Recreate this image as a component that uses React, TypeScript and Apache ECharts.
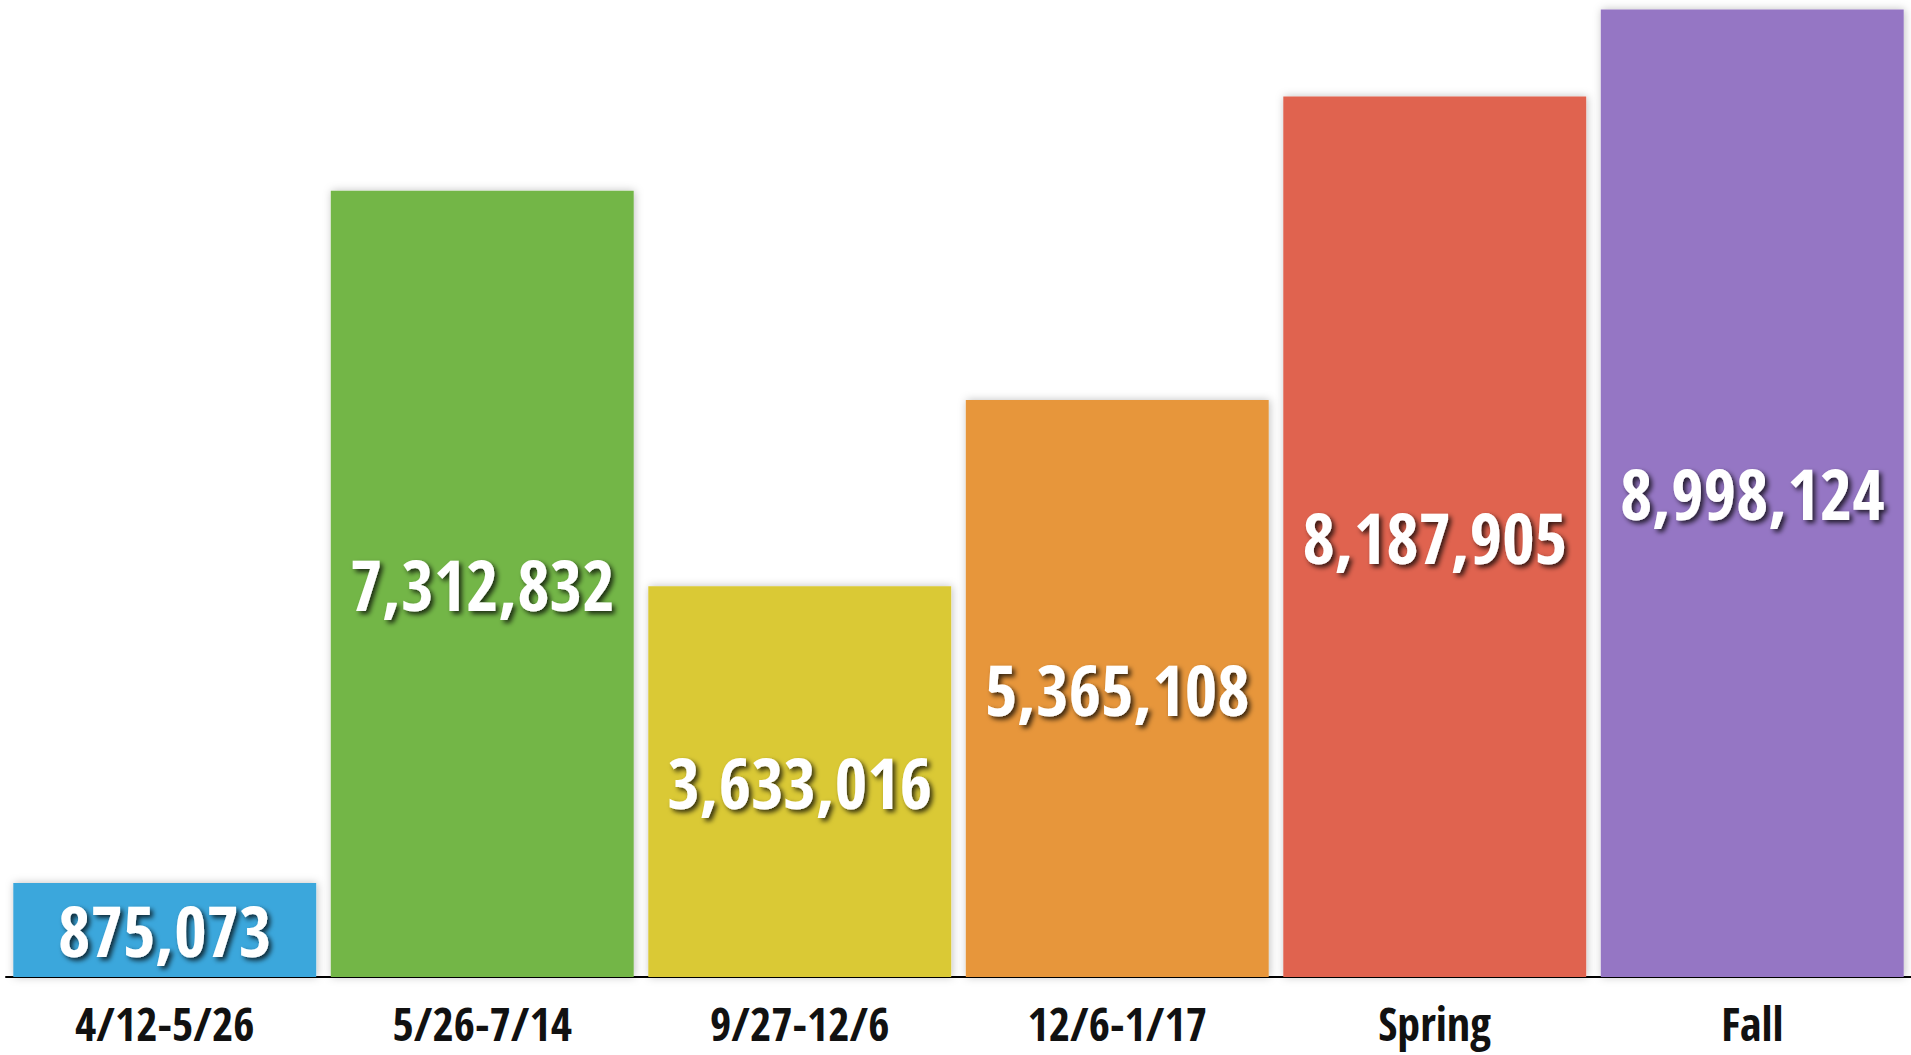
import React, { useEffect, useRef } from "react";
import * as echarts from "echarts";

const categories = ["4/12-5/26", "5/26-7/14", "9/27-12/6", "12/6-1/17", "Spring", "Fall"];
const values = [875073, 7312832, 3633016, 5365108, 8187905, 8998124];
const barColors = ["#3ba7dc", "#73b646", "#dac936", "#e7963a", "#e0634f", "#9576c4"];

const FONT = '"Open Sans Condensed", "Roboto Condensed", "DejaVu Sans Condensed", sans-serif';

export default function App() {
  const ref = useRef<HTMLDivElement>(null);
  useEffect(() => {
    document.body.style.margin = "0";
    if (!ref.current) return;
    const chart = echarts.init(ref.current, undefined, { renderer: "svg" });
    chart.setOption({
      animation: false,
      backgroundColor: "#ffffff",
      grid: { left: 6, right: 0, top: 0, bottom: 78, containLabel: false },
      xAxis: {
        type: "category",
        data: categories,
        axisLine: { show: true, lineStyle: { color: "#000000", width: 2 } },
        axisTick: { show: false },
        axisLabel: {
          color: "#111111",
          fontFamily: FONT,
          fontWeight: "bold",
          fontSize: 46,
          lineHeight: 46,
          margin: 23,
        },
      },
      yAxis: {
        type: "value",
        min: 0,
        max: 9086000,
        show: false,
        splitLine: { show: false },
      },
      series: [
        {
          type: "bar",
          data: values.map((v, i) => ({
            value: v,
            itemStyle: { color: barColors[i] },
          })),
          barCategoryGap: "4.6%",
          itemStyle: {
            shadowBlur: 8,
            shadowColor: "rgba(0,0,0,0.25)",
            shadowOffsetX: 1,
            shadowOffsetY: 0,
          },
          label: {
            show: true,
            position: "inside",
            color: "#ffffff",
            fontFamily: FONT,
            fontWeight: "bold",
            fontSize: 70,
            textShadowColor: "rgba(0,0,0,0.75)",
            textShadowBlur: 5,
            textShadowOffsetX: 3,
            textShadowOffsetY: 3,
            formatter: (p: any) => Number(p.value).toLocaleString("en-US"),
          },
        },
      ],
    });
    return () => chart.dispose();
  }, []);
  return <div ref={ref} style={{ width: 1911, height: 1055 }} />;
}
